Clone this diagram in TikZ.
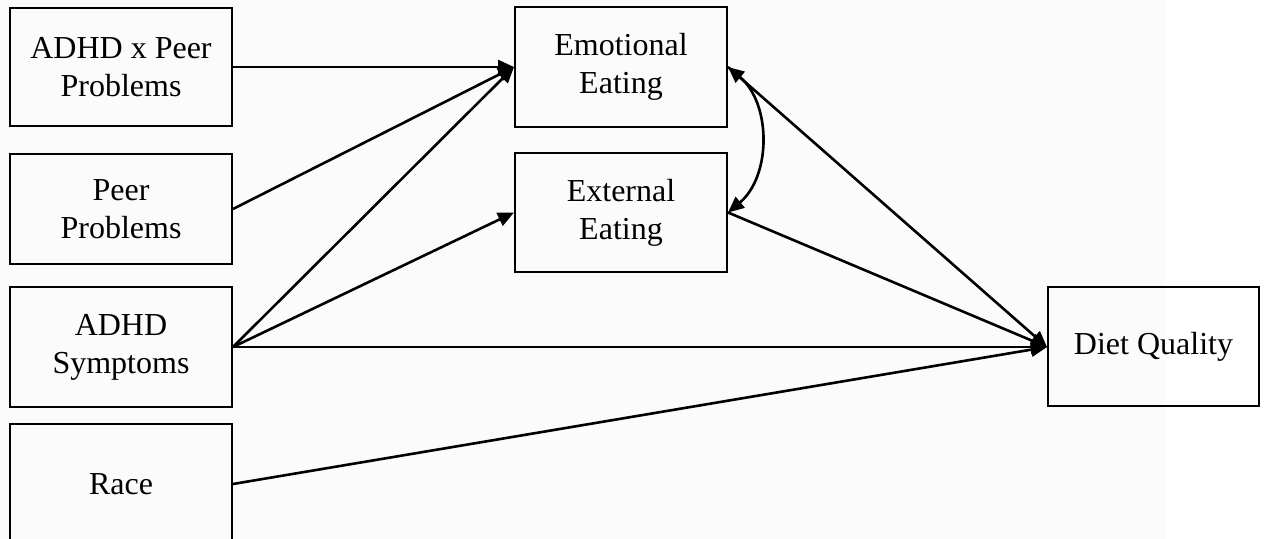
\documentclass[tikz,border=0pt]{standalone}
\usepackage{fontspec}
\setmainfont{Liberation Serif}
\usetikzlibrary{arrows.meta,positioning}
\definecolor{paper}{RGB}{251,251,251}

\begin{document}
\begin{tikzpicture}[>={Triangle[length=8pt,width=7pt]},line width=1.3pt]
    \tikzstyle{var}=[draw,line width=1pt,align=center,inner sep=0pt,minimum width=111pt,minimum height=59pt,font=\fontsize{16}{19}\selectfont]

    \fill[paper] (0,0) rectangle (582.5pt,-269.5pt);
    \useasboundingbox (0,0) rectangle (632pt,-269.5pt);

    \node[var] (adhdpeer) at (60.5pt,-33.5pt) {ADHD x Peer\\Problems};
    \node[var,minimum height=55pt] (peer) [below=13pt of adhdpeer] {Peer\\Problems};
    \node[var,minimum height=60pt] (adhd) [below=10.5pt of peer] {ADHD\\Symptoms};
    \node[var,minimum height=60pt] (race) [below=7.5pt of adhd] {Race};
    \node[var,minimum width=106pt,minimum height=60pt] (emot) [right=140.5pt of adhdpeer] {Emotional\\Eating};
    \node[var,minimum width=106pt,minimum height=59.5pt] (ext) [below=12pt of emot] {External\\Eating};
    \node[var,minimum width=105.5pt,minimum height=59.5pt] (diet) [right=407pt of adhd] {Diet Quality};

    \path[->]
    (adhdpeer.east) edge (emot.west)
    (peer.east) edge (emot.west)
    (adhd.east) edge (emot.west)
    (adhd.east) edge (ext.west)
    (adhd.east) edge (diet.west)
    (race.east) edge (diet.west)
    (emot.east) edge (diet.west)
    (ext.east) edge (diet.west);
    \draw[<->] (emot.east) to[bend left=50] (ext.east);
\end{tikzpicture}
\end{document}
